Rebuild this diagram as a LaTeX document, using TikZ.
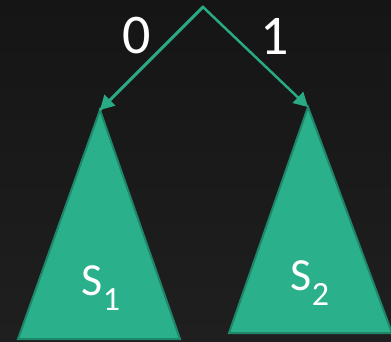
\documentclass[tikz,border=0pt]{standalone}
\usepackage{fontspec}
\setmainfont{Carlito}
\usetikzlibrary{arrows.meta}
\definecolor{bgtop}{RGB}{21,21,21}
\definecolor{bgbot}{RGB}{31,31,31}
\definecolor{trifill}{RGB}{43,176,140}
\definecolor{tridraw}{RGB}{30,135,106}
\definecolor{arrowc}{RGB}{40,170,132}
\tikzset{
  tree/.style={fill=trifill, draw=tridraw, line width=2pt, line join=miter},
  branch/.style={draw=arrowc, line width=2.5pt, -{Triangle[length=14pt,width=15pt]}},
  bitlabel/.style={text=white, font=\fontsize{56}{60}\selectfont, inner sep=0pt},
  setlabel/.style={text=white, font=\fontsize{46}{50}\selectfont, inner sep=0pt},
}
\newcommand{\mysub}[1]{\raisebox{-0.32em}{\fontsize{34}{36}\selectfont #1}}
\begin{document}
\begin{tikzpicture}[x=1pt,y=-1pt]
\shade[top color=bgtop, bottom color=bgbot] (0,0) rectangle (391,341);
\useasboundingbox (0,0) rectangle (391,341);
\coordinate (root) at (203,7);
\coordinate (a1) at (100,110);
\coordinate (a2) at (308,107);
\path[tree] (100,110) -- (180,339) -- (18,339) -- cycle;
\path[tree] (308,107) -- (392,333) -- (229,333) -- cycle;
\draw[branch, line join=miter] (a1) -- (root) -- (a2);
\draw[branch] (root) -- (a1);
\node[bitlabel] (l0) at (137,36) {0};
\node[bitlabel] (l1) at (275,36) {1};
\node[setlabel] (s1) at (101,288) {S\mysub{1}};
\node[setlabel] (s2) at (310,283) {S\mysub{2}};
\end{tikzpicture}
\end{document}
